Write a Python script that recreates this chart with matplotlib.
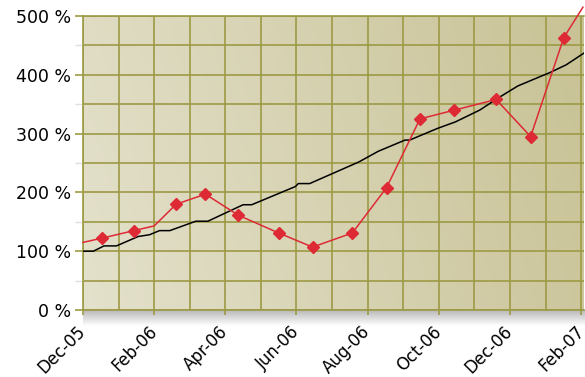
import numpy as np
import matplotlib.pyplot as plt
import matplotlib.transforms as mtrans
from matplotlib.colors import LinearSegmentedColormap

# x positions are in months from Dec-05 (0) to Feb-07 (14)
tick_labels = ['Dec-05', 'Feb-06', 'Apr-06', 'Jun-06',
               'Aug-06', 'Oct-06', 'Dec-06', 'Feb-07']

black_x = [0, 0.29, 0.59, 0.94, 1.55, 1.87, 2.15, 2.44, 3.17, 3.51, 4.5,
           4.74, 5.97, 6.05, 6.37, 7.76, 8.3, 9.05, 9.18, 9.97, 10.47,
           11.15, 11.68, 12.22, 12.85, 13.13, 13.58, 14.08]
black_y = [100, 100, 109, 109, 125, 128, 135, 135, 151, 151, 179,
           179, 210, 215, 215, 252, 270, 289, 289, 309, 320,
           340, 361, 381, 397, 404, 417, 437]

red_x = [0, 0.52, 1.43, 2.0, 2.62, 3.44, 4.37, 5.5, 6.45, 7.57, 8.53,
         9.47, 10.44, 11.61, 12.58, 13.51, 14.05]
red_y = [115, 122, 135, 143, 180, 197, 161, 131, 107, 131, 208,
         325, 340, 358, 295, 463, 515]
red_marked = [1, 2, 4, 5, 6, 7, 8, 9, 10, 11, 12, 13, 14, 15]

olive = '#9d9a45'

fig = plt.figure(figsize=(5.85, 3.77), dpi=100)
left, bottom, width, height = 83 / 585, 1 - 310 / 377, 501 / 585, 294 / 377

# soft shadow under the plot area
sh = fig.add_axes([left, bottom - 16 / 377, width + 1 / 585, 16 / 377])
sh.imshow(np.linspace(0.6, 0, 32).reshape(-1, 1), aspect='auto',
          cmap=LinearSegmentedColormap.from_list('s', ['white', '#8a8a8a']),
          vmin=0, vmax=1, extent=[0, 1, 0, 1])
sh.axis('off')

ax = fig.add_axes([left, bottom, width, height])

# background gradient
bg = LinearSegmentedColormap.from_list('bg', ['#e4e1cc', '#c8c295'])
gx, gy = np.meshgrid(np.linspace(0, 1, 200), np.linspace(0, 1, 200))
ax.imshow(0.85 * gx + 0.15 * gy, cmap=bg, aspect='auto', origin='lower',
          extent=[0, 14.08, 0, 500], zorder=0)

ax.plot(black_x, black_y, color='black', linewidth=1.1, zorder=3)
ax.plot(red_x, red_y, color='#dd2a35', linewidth=1.1, marker='D',
        markersize=6, markevery=red_marked, clip_on=False, zorder=4)

ax.set_xlim(0, 14.08)
ax.set_ylim(0, 500)
ax.set_xticks(np.arange(0, 15, 2))
ax.set_xticks(np.arange(1, 15, 2), minor=True)
ax.set_xticklabels(tick_labels, rotation=45, ha='right', va='center',
                   rotation_mode='anchor', fontsize=12)
shift = mtrans.ScaledTranslation(3 / 100, 0, fig.dpi_scale_trans)
for lab in ax.get_xticklabels():
    lab.set_transform(lab.get_transform() + shift)
ax.set_yticks(np.arange(0, 501, 100))
ax.set_yticks(np.arange(50, 500, 100), minor=True)
ax.set_yticklabels([f'{v} %' for v in range(0, 501, 100)], fontsize=12.5)

ax.grid(which='both', color=olive, linewidth=1.2, zorder=1)
ax.set_axisbelow(True)
ax.tick_params(which='major', axis='y', color=olive, width=1.2,
               length=5.8, pad=3)
ax.tick_params(which='minor', axis='y', color='#e0e0e0', width=1,
               length=5.8)
ax.tick_params(which='major', axis='x', color=olive, width=1.2,
               length=3.6, pad=10)
ax.tick_params(which='minor', axis='x', length=0)
for side in ['left', 'bottom', 'top']:
    ax.spines[side].set_color(olive)
    ax.spines[side].set_linewidth(1.2)
ax.spines['right'].set_visible(False)

fig.savefig('out.png', dpi=100)
